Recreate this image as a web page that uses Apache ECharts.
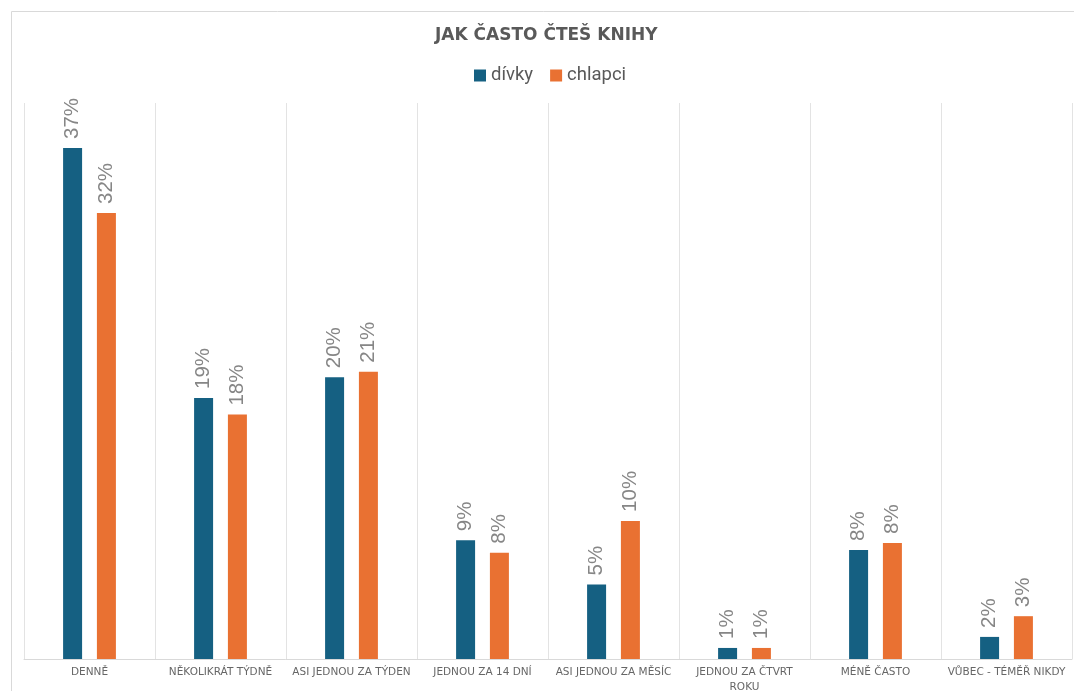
<!DOCTYPE html>
<html>
<head>
<meta charset="utf-8">
<script src="https://cdn.jsdelivr.net/npm/echarts@6/dist/echarts.min.js"></script>
<style>
html,body{margin:0;padding:0;background:#fff;}
#chart{width:1074px;height:691px;}
</style>
</head>
<body>
<div id="chart"></div>
<script>
const categories = ['DENNĚ', 'NĚKOLIKRÁT TÝDNĚ', 'ASI JEDNOU ZA TÝDEN', 'JEDNOU ZA 14 DNÍ', 'ASI JEDNOU ZA MĚSÍC', 'JEDNOU ZA ČTVRT ROKU', 'MÉNĚ ČASTO', 'VŮBEC - TÉMĚŘ NIKDY'];
const divky = [37.0, 18.9, 20.4, 8.6, 5.4, 0.8, 7.9, 1.6];
const chlapci = [32.3, 17.7, 20.8, 7.7, 10.0, 0.8, 8.4, 3.1];
const seriesNames = ['dívky', 'chlapci'];
const titleText = 'JAK ČASTO ČTEŠ KNIHY';

function wrapLabel(v) {
  if (v.length <= 19) return v;
  const i = v.lastIndexOf(' ');
  return v.slice(0, i) + '\n' + v.slice(i + 1);
}

const chart = echarts.init(document.getElementById('chart'));
const labelCfg = {
  show: true,
  position: 'top',
  rotate: 90,
  align: 'left',
  verticalAlign: 'middle',
  distance: 9,
  color: '#868686',
  fontFamily: 'Liberation Sans',
  fontSize: 20.5,
  formatter: p => Math.round(p.value) + '%'
};
chart.setOption({
  animation: false,
  title: {
    text: titleText,
    left: 430,
    top: 22,
    textStyle: {fontFamily: 'DejaVu Sans', fontWeight: 'bold', fontSize: 17, color: '#595959'}
  },
  legend: {
    data: seriesNames,
    top: 61,
    left: 469,
    itemWidth: 12,
    itemHeight: 12,
    itemGap: 17,
    icon: 'rect',
    textStyle: {fontFamily: 'Roboto', fontSize: 18.5, color: '#595959'}
  },
  graphic: [{
    type: 'rect',
    left: 9, top: 9,
    shape: {width: 1100, height: 720},
    style: {fill: 'none', stroke: '#d9d9d9', lineWidth: 1},
    silent: true
  }],
  grid: {left: 24, right: 2, top: 103, bottom: 32, containLabel: false, outerBoundsMode: 'none'},
  xAxis: {
    type: 'category',
    data: categories,
    axisLine: {lineStyle: {color: '#d9d9d9'}},
    axisTick: {show: false},
    splitLine: {show: true, lineStyle: {color: '#e3e3e3'}},
    axisLabel: {
      interval: 0,
      margin: 6,
      formatter: wrapLabel,
      fontFamily: 'DejaVu Sans',
      fontSize: 10.5,
      lineHeight: 15,
      color: '#666666'
    }
  },
  yAxis: {
    type: 'value',
    min: 0,
    max: 40.26,
    show: false,
    splitLine: {show: false}
  },
  series: [
    {name: seriesNames[0], type: 'bar', data: divky, barWidth: 19, barGap: '78%',
     itemStyle: {color: '#156082'}, label: labelCfg},
    {name: seriesNames[1], type: 'bar', data: chlapci, barWidth: 19, barGap: '78%',
     itemStyle: {color: '#E97132'}, label: labelCfg}
  ]
});
</script>
</body>
</html>
